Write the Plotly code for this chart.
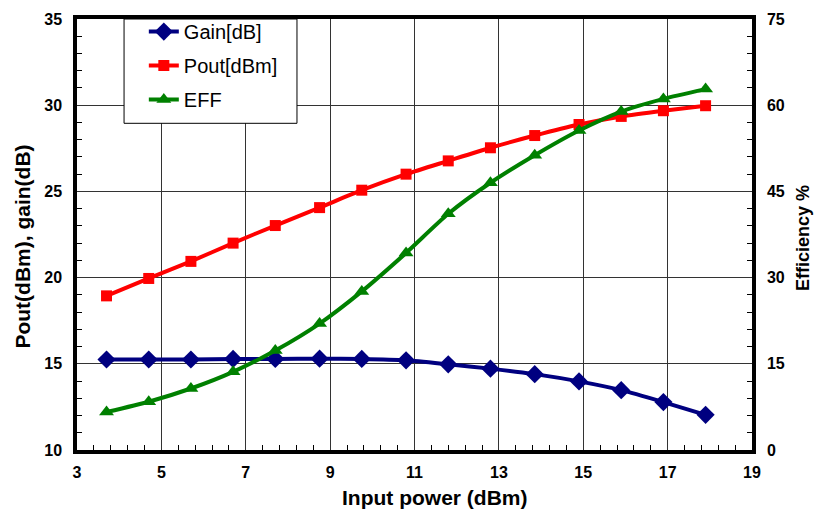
import plotly.graph_objects as go

input_power = [3.7, 4.7, 5.7, 6.7, 7.7, 8.75, 9.75, 10.8, 11.8, 12.8, 13.85, 14.9, 15.9, 16.9, 17.9]
gain_db = [15.25, 15.25, 15.25, 15.28, 15.28, 15.3, 15.28, 15.2, 14.97, 14.72, 14.4, 13.98, 13.47, 12.78, 12.04]
pout_dbm = [18.94, 19.95, 20.94, 22.0, 23.02, 24.06, 25.07, 26.0, 26.77, 27.53, 28.24, 28.88, 29.35, 29.68, 29.97]
eff_pct = [6.6, 8.4, 10.7, 13.6, 17.3, 22.0, 27.6, 34.3, 41.1, 46.5, 51.3, 55.6, 58.9, 61.1, 62.8]

x_title = "Input power (dBm)"
y_title = "Pout(dBm), gain(dB)"
y2_title = "Efficiency %"

FONT = "Arial, Liberation Sans, sans-serif"

fig = go.Figure()
fig.add_trace(go.Scatter(x=input_power, y=gain_db, name="Gain[dB]", mode="lines+markers", legendgroup="g",
                         line=dict(color="#000080", width=4, shape="spline", smoothing=0.6),
                         marker=dict(symbol="diamond", size=14, color="#000080")))
fig.add_trace(go.Scatter(x=input_power, y=pout_dbm, name="Pout[dBm]", mode="lines+markers", legendgroup="p",
                         line=dict(color="#FF0000", width=4, shape="spline", smoothing=0.6),
                         marker=dict(symbol="square", size=11, color="#FF0000")))
fig.add_trace(go.Scatter(x=input_power, y=eff_pct, name="EFF", mode="lines+markers", yaxis="y2", legendgroup="e",
                         line=dict(color="#008000", width=4, shape="spline", smoothing=0.6),
                         marker=dict(symbol="triangle-up", size=13, color="#008000")))

tickfont = dict(family=FONT, size=16, color="black")

fig.update_layout(
    width=814, height=514,
    margin=dict(l=77, r=62, t=16, b=64),
    paper_bgcolor="white", plot_bgcolor="white",
    font=dict(family=FONT),
    xaxis=dict(range=[3, 19], dtick=2, tick0=3, showgrid=True, gridcolor="#333333", gridwidth=1,
               showline=True, linecolor="black", linewidth=3.5, mirror=True, automargin=False,
               ticks="", tickfont=tickfont, tickprefix="<b>", ticksuffix="</b>", ticklabelstandoff=5,
               minor=dict(ticks="inside", dtick=0.4, tick0=3, ticklen=5, tickcolor="black", tickwidth=1, showgrid=False),
               zeroline=False),
    yaxis=dict(range=[10, 35], dtick=5, showgrid=True, gridcolor="#333333", gridwidth=1,
               showline=True, linecolor="black", linewidth=3.5, mirror=True, automargin=False,
               ticks="", tickfont=tickfont, tickprefix="<b>", ticksuffix="</b>", ticklabelstandoff=8,
               minor=dict(ticks="inside", dtick=1, ticklen=5, tickcolor="black", tickwidth=1, showgrid=False),
               zeroline=False),
    yaxis2=dict(range=[0, 75], dtick=15, overlaying="y", side="right", showgrid=False,
                showline=True, linecolor="black", linewidth=3.5, automargin=False,
                ticks="", tickfont=tickfont, tickprefix="<b>", ticksuffix="</b>", ticklabelstandoff=8,
                minor=dict(ticks="inside", dtick=3, ticklen=5, tickcolor="black", tickwidth=1),
                zeroline=False),
    legend=dict(x=0.099, y=1.016, xanchor="left", yanchor="top",
                borderwidth=0, bgcolor="rgba(0,0,0,0)",
                font=dict(family=FONT, size=20, color="black"),
                traceorder="grouped", tracegroupgap=5),
    shapes=[dict(type="rect", xref="paper", yref="paper", x0=0.0697, x1=0.3259, y0=0.758, y1=1.0,
                 fillcolor="white", line=dict(color="black", width=1), layer="above")],
    annotations=[
        dict(text=f"<b>{x_title}</b>", xref="paper", yref="paper", x=0.530, y=-0.1106,
             xanchor="center", yanchor="middle", showarrow=False,
             font=dict(family=FONT, size=21, color="black")),
        dict(text=f"<b>{y_title}</b>", xref="paper", yref="paper", x=-0.080, y=0.472,
             xanchor="center", yanchor="middle", showarrow=False, textangle=-90,
             font=dict(family=FONT, size=21, color="black")),
        dict(text=f"<b>{y2_title}</b>", xref="paper", yref="paper", x=1.0756, y=0.492,
             xanchor="center", yanchor="middle", showarrow=False, textangle=-90,
             font=dict(family=FONT, size=18, color="black")),
    ],
    showlegend=True,
)

fig.write_html("out.html")
